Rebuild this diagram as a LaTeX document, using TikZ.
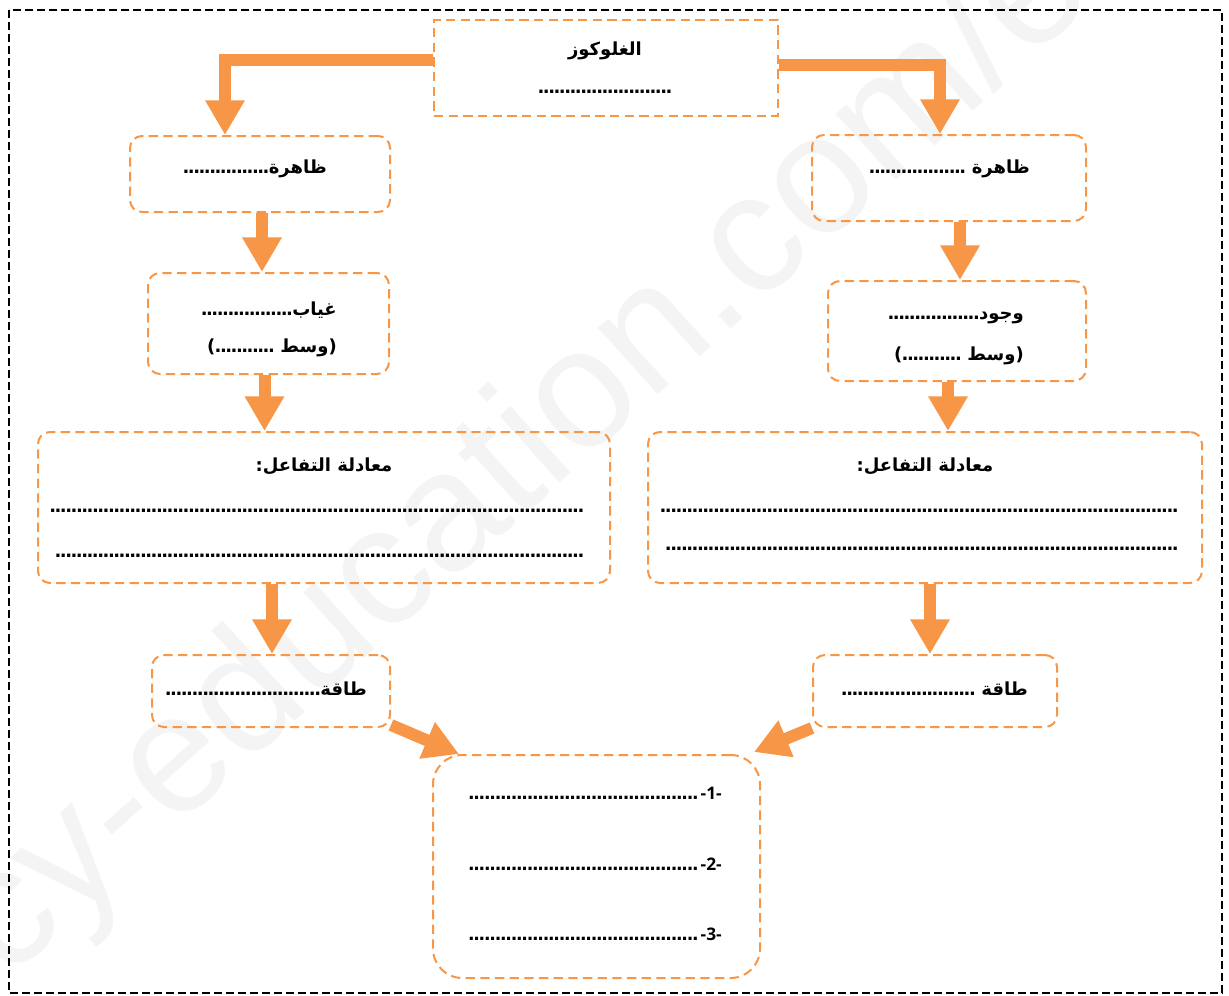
\documentclass[tikz,border=0pt]{standalone}
\usepackage{fontspec}
\setmainfont{DejaVu Sans}
\newfontfamily\arfont[Script=Arabic]{DejaVu Sans}
\newfontfamily\numfont{Open Sans}
\newfontfamily\wmfont{Liberation Sans}
\TeXXeTstate=1
\usetikzlibrary{arrows.meta,calc,fit}
\definecolor{org}{HTML}{F79646}
\definecolor{wmc}{HTML}{F4F4F4}
\newcommand\dts[1]{\makebox[#1]{\arfont\bfseries\leaders\hbox to 4pt{\hss.\hss}\hfill}}
\begin{document}
\begin{tikzpicture}[x=0.75pt,y=-0.75pt,
  box/.style={draw=org, line width=1.5pt, dash pattern=on 7pt off 4pt, rounded corners=9pt, inner sep=0pt},
  sqbox/.style={draw=org, line width=1.5pt, dash pattern=on 7pt off 4pt, inner sep=0pt},
  arr/.style={draw=org, line width=9pt, line join=miter, -{Triangle[length=26pt,width=28pt]}},
  tx/.style={font=\arfont\bfseries\fontsize{13.5}{15}\selectfont, inner sep=0pt, text=black},
  nx/.style={font=\numfont\bfseries\fontsize{13}{15}\selectfont, inner sep=0pt, text=black}]
\useasboundingbox (0,0) rectangle (1229,996);
% watermark
\begin{scope}
\clip (0,0) rectangle (1229,996);
\node[font=\wmfont\fontsize{127}{127}\selectfont, text=wmc, rotate=42, anchor=base west, inner sep=0pt] (wm) at (6,982) {cy-education.com/e};
\end{scope}
% outer border
\draw[black, line width=1.1pt, dash pattern=on 6pt off 3pt] (9,10) rectangle (1222,993);
% boxes
\node[sqbox, fit={(434,20) (778,116)}] (glu) {};
\node[box, fit={(130,136) (390,212)}] (lz) {};
\node[box, fit={(812,135) (1086,221)}] (rz) {};
\node[box, fit={(148,273) (389,374)}] (lg) {};
\node[box, fit={(828,281) (1086,381)}] (rw) {};
\node[box, fit={(38,432) (610,583)}] (leq) {};
\node[box, fit={(648,432) (1202,583)}] (req) {};
\node[box, fit={(152,655) (390,727)}] (lt) {};
\node[box, fit={(813,655) (1057,727)}] (rt) {};
\node[box, rounded corners=22pt, fit={(433,755) (760,978)}] (res) {};
% texts
\node[tx] (glut) at (605,51) {\beginR الغلوكوز\endR};
\node[tx] (glud) at (605,92) {\dts{100pt}};
\node[tx, anchor=east] (lzt) at (327,169) {\beginR ظاهرة\dts{64pt}\endR};
\node[tx, anchor=east] (rzt) at (1030,169) {\beginR ظاهرة \dts{75pt}\endR};
\node[tx, anchor=east] (lgt1) at (337,310) {\beginR غياب\dts{69pt}\endR};
\node[tx, anchor=east] (lgt2) at (337,348) {\beginR (وسط \dts{44pt})\endR};
\node[tx, anchor=east] (rwt1) at (1024,318) {\beginR وجود\dts{70pt}\endR};
\node[tx, anchor=east] (rwt2) at (1024,356) {\beginR (وسط \dts{44pt})\endR};
\node[tx] (leqt) at (324,466) {\beginR معادلة التفاعل:\endR};
\node[tx, anchor=east] (leq1) at (585,511) {\dts{401pt}};
\node[tx, anchor=east] (leq2) at (585,556) {\dts{397pt}};
\node[tx] (reqt) at (925,466) {\beginR معادلة التفاعل:\endR};
\node[tx, anchor=east] (req1) at (1178,511) {\dts{388pt}};
\node[tx, anchor=east] (req2) at (1178,549) {\dts{384pt}};
\node[tx, anchor=east] (ltt) at (367,689) {\beginR طاقة\dts{116pt}\endR};
\node[tx, anchor=east] (rtt) at (1028,689) {\beginR طاقة \dts{103pt}\endR};
\node[nx, anchor=east] (r1) at (722,793) {\dts{174pt}-1-};
\node[nx, anchor=east] (r2) at (722,864) {\dts{174pt}-2-};
\node[nx, anchor=east] (r3) at (722,934) {\dts{174pt}-3-};
% arrows
\coordinate (la) at (225,60);
\coordinate (ra) at (940,65);
\coordinate (a1) at ($(lz.south)+(2,0)$);
\coordinate (a2) at ($(rz.south)+(11,0)$);
\coordinate (a3) at ($(lg.south)+(-4,0)$);
\coordinate (a4) at ($(rw.south)+(-9,0)$);
\coordinate (a5) at ($(leq.south)+(-52,0)$);
\coordinate (a6) at ($(req.south)+(5,0)$);
\coordinate (a7) at ($(lt.south east)+(0,-3)$);
\coordinate (a8) at ($(res.north west)+(27,0)$);
\coordinate (a9) at ($(rt.south west)+(0,0)$);
\coordinate (a10) at ($(res.north east)+(-7,-2)$);
\draw[arr] (glu.west |- la) -| (la |- lz.north);
\draw[arr] (glu.east |- ra) -| (ra |- rz.north);
\draw[arr] (a1) -- (a1 |- lg.north);
\draw[arr] (a2) -- (a2 |- rw.north);
\draw[arr] (a3) -- (a3 |- leq.north);
\draw[arr] (a4) -- (a4 |- req.north);
\draw[arr] (a5) -- (a5 |- lt.north);
\draw[arr] (a6) -- (a6 |- rt.north);
\draw[arr] (a7) -- (a8);
\draw[arr] (a9) -- (a10);
\end{tikzpicture}
\end{document}
